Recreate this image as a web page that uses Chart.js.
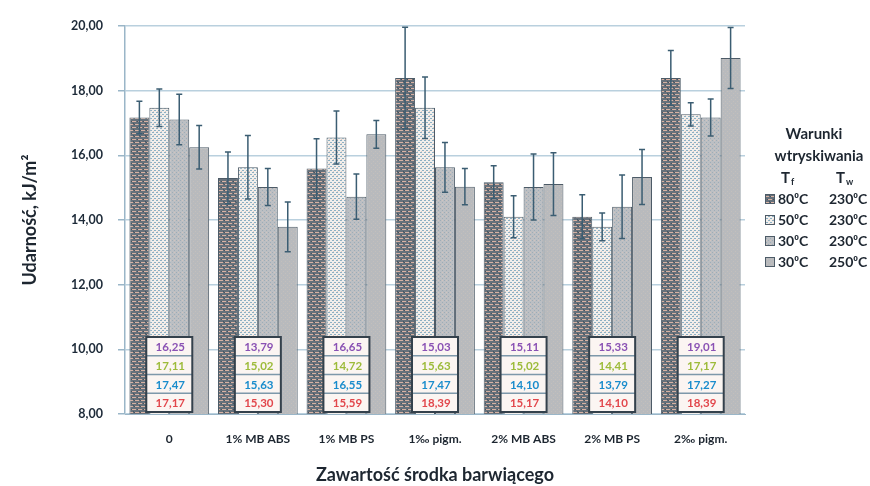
<!DOCTYPE html>
<html>
<head>
<meta charset="utf-8">
<script src="https://cdn.jsdelivr.net/npm/chart.js@4.4.1/dist/chart.umd.min.js"></script>
<style>
  html, body { margin: 0; padding: 0; background: #ffffff; }
  #wrap { width: 870px; height: 486px; position: relative; }
</style>
</head>
<body>
<div id="wrap"><canvas id="c" width="870" height="486"></canvas></div>
<script>
// Categories (colourant content)
const categories = ['0', '1% MB ABS', '1% MB PS', '1\u2030 pigm.', '2% MB ABS', '2% MB PS', '2\u2030 pigm.'];

// Injection conditions: mould temperature Tf / melt temperature Tw
const seriesTf = ['80\u2070C', '50\u2070C', '30\u2070C', '30\u2070C'];
const seriesTw = ['230\u2070C', '230\u2070C', '230\u2070C', '250\u2070C'];

// Impact strength, kJ/m2
const s80_230 = [17.17, 15.30, 15.59, 18.39, 15.17, 14.10, 18.39];
const s50_230 = [17.47, 15.63, 16.55, 17.47, 14.10, 13.79, 17.27];
const s30_230 = [17.11, 15.02, 14.72, 15.63, 15.02, 14.41, 17.17];
const s30_250 = [16.25, 13.79, 16.65, 15.03, 15.11, 15.33, 19.01];

// Standard deviations
const e80_230 = [0.50, 0.80, 0.92, 1.57, 0.51, 0.68, 0.85];
const e50_230 = [0.58, 0.98, 0.82, 0.95, 0.65, 0.43, 0.36];
const e30_230 = [0.78, 0.57, 0.70, 0.77, 1.02, 0.98, 0.57];
const e30_250 = [0.67, 0.77, 0.43, 0.56, 0.97, 0.85, 0.94];

// Y axis range
const yMin = 8, yMax = 20, yStep = 2;

const seriesValues = [s80_230, s50_230, s30_230, s30_250];
const seriesErrors = [e80_230, e50_230, e30_230, e30_250];
// colours of the value labels in the per-group table (same series order)
const labelColors = ['#e2474c', '#1a8ccc', '#9dbb3a', '#8a52b4'];

const fmt = v => v.toFixed(2).replace('.', ',');

function makePattern(w, h, draw) {
  const cv = document.createElement('canvas');
  cv.width = w; cv.height = h;
  const g = cv.getContext('2d');
  draw(g);
  return document.getElementById('c').getContext('2d').createPattern(cv, 'repeat');
}

// brick-like dark fill
const patBrick = makePattern(6, 6, g => {
  g.fillStyle = '#66717b'; g.fillRect(0, 0, 6, 6);
  g.fillStyle = '#d8b2a3';
  g.fillRect(0, 1, 4, 1);
  g.fillRect(3, 4, 3, 1);
  g.fillRect(0, 4, 1, 1);
  g.fillStyle = '#48535e';
  g.fillRect(5, 1, 1, 1);
  g.fillRect(2, 4, 1, 1);
  g.fillRect(1, 3, 1, 1);
});
// light dotted fill
const patLightDots = makePattern(4, 4, g => {
  g.fillStyle = '#f2efec'; g.fillRect(0, 0, 4, 4);
  g.fillStyle = '#8db0c3';
  g.fillRect(0, 0, 2, 1);
  g.fillRect(2, 2, 2, 1);
  g.fillStyle = '#e6cbc0';
  g.fillRect(1, 3, 1, 1);
});
// gray fine dots
const patGrayDots = makePattern(4, 4, g => {
  g.fillStyle = '#bcbfc3'; g.fillRect(0, 0, 4, 4);
  g.fillStyle = '#9eacb6';
  g.fillRect(0, 0, 1, 1);
  g.fillRect(2, 2, 1, 1);
  g.fillStyle = '#d2c4be';
  g.fillRect(2, 0, 1, 1);
});
// plain gray fill
const patGray = makePattern(4, 4, g => {
  g.fillStyle = '#b8babd'; g.fillRect(0, 0, 4, 4);
  g.fillStyle = '#c3bfbc';
  g.fillRect(1, 1, 1, 1);
  g.fillRect(3, 3, 1, 1);
});
const fills = [patBrick, patLightDots, patGrayDots, patGray];

const datasets = seriesValues.map((vals, i) => ({
  label: seriesTf[i] + ' ' + seriesTw[i],
  data: vals,
  backgroundColor: fills[i],
  borderColor: '#4d5b67',
  borderWidth: 1,
  categoryPercentage: 0.9,
  barPercentage: 1.0
}));

const FONT = 'Lato, "Open Sans", "DejaVu Sans", sans-serif';

// error bars from the dataset values and deviations
const errorBars = {
  id: 'errorBars',
  afterDatasetsDraw(chart) {
    const ctx = chart.ctx, ys = chart.scales.y;
    ctx.save();
    ctx.beginPath();
    ctx.rect(chart.chartArea.left, chart.chartArea.top - 4, chart.chartArea.width, chart.chartArea.height + 4);
    ctx.clip();
    ctx.strokeStyle = '#3b5d72';
    ctx.lineWidth = 1.5;
    seriesValues.forEach((vals, i) => {
      const meta = chart.getDatasetMeta(i);
      meta.data.forEach((bar, j) => {
        const v = vals[j], e = seriesErrors[i][j];
        const x = bar.x;
        const yt = ys.getPixelForValue(v + e);
        const yb = ys.getPixelForValue(v - e);
        ctx.beginPath();
        ctx.moveTo(x, yt); ctx.lineTo(x, yb);
        ctx.moveTo(x - 3, yt); ctx.lineTo(x + 3, yt);
        ctx.moveTo(x - 3, yb); ctx.lineTo(x + 3, yb);
        ctx.stroke();
      });
    });
    ctx.restore();
  }
};

// value table inside each group
const valueTables = {
  id: 'valueTables',
  afterDatasetsDraw(chart) {
    const ctx = chart.ctx, xs = chart.scales.x, area = chart.chartArea;
    const w = 46, rowH = 18.75, rows = 4;
    const top = area.bottom - 2 - rows * rowH;
    ctx.save();
    categories.forEach((cat, j) => {
      const cx = xs.getPixelForValue(j);
      const left = cx - w / 2;
      ctx.fillStyle = '#fbf5f2';
      ctx.fillRect(left, top, w, rows * rowH);
      // row separators
      ctx.strokeStyle = '#7d98aa';
      ctx.lineWidth = 1.5;
      for (let r = 1; r < rows; r++) {
        ctx.beginPath();
        ctx.moveTo(left, top + r * rowH);
        ctx.lineTo(left + w, top + r * rowH);
        ctx.stroke();
      }
      ctx.strokeStyle = '#34414c';
      ctx.lineWidth = 2;
      ctx.strokeRect(left, top, w, rows * rowH);
      ctx.font = 'bold 11.5px ' + FONT;
      ctx.textAlign = 'center';
      ctx.textBaseline = 'middle';
      for (let r = 0; r < rows; r++) {
        const si = rows - 1 - r;
        ctx.fillStyle = labelColors[si];
        ctx.fillText(fmt(seriesValues[si][j]), cx + 1, top + r * rowH + rowH / 2 + 1);
      }
    });
    ctx.restore();
  }
};

// side legend with injection conditions
const sideLegend = {
  id: 'sideLegend',
  afterDraw(chart) {
    const ctx = chart.ctx;
    ctx.save();
    ctx.fillStyle = '#1d2630';
    ctx.textBaseline = 'middle';
    ctx.textAlign = 'center';
    ctx.font = 'bold 15px ' + FONT;
    ctx.fillText('Warunki', 814, 134);
    ctx.fillText('wtryskiwania', 819, 156);
    // column heads T with subscripts
    ctx.textAlign = 'left';
    ctx.fillText('T', 781, 178);
    ctx.fillText('T', 836, 178);
    ctx.font = 'bold 9px ' + FONT;
    ctx.fillText('f', 791, 182);
    ctx.fillText('w', 846, 182);
    const rowsY = [199, 220, 241, 262];
    ctx.font = 'bold 14px ' + FONT;
    rowsY.forEach((y, i) => {
      ctx.fillStyle = fills[i];
      ctx.fillRect(765, y - 5, 9, 10);
      ctx.strokeStyle = '#4d5b67';
      ctx.lineWidth = 1;
      ctx.strokeRect(765.5, y - 4.5, 9, 9);
      ctx.fillStyle = '#1d2630';
      ctx.textAlign = 'left';
      ctx.fillText(seriesTf[i], 778, y);
      ctx.fillText(seriesTw[i], 829, y);
    });
    ctx.restore();
  }
};

new Chart(document.getElementById('c'), {
  type: 'bar',
  data: { labels: categories, datasets },
  options: {
    responsive: false,
    animation: false,
    layout: { padding: { left: 0, right: 125, top: 26, bottom: 0 } },
    plugins: {
      legend: { display: false },
      tooltip: { enabled: false }
    },
    scales: {
      x: {
        grid: { display: false },
        border: { display: true, color: '#9ab6c8', width: 1 },
        ticks: {
          color: '#1d2630',
          font: { family: FONT, size: 12, weight: 'bold' },
          padding: 10,
          maxRotation: 0,
          autoSkip: false
        },
        title: {
          display: true,
          text: 'Zawartość środka barwiącego',
          color: '#1d2630',
          font: { family: FONT, size: 18, weight: 'bold' },
          padding: { top: 0, bottom: 0 }
        },
        afterFit(scale) { scale.height = 72; }
      },
      y: {
        min: yMin,
        max: yMax,
        ticks: {
          stepSize: yStep,
          color: '#1d2a38',
          font: { family: FONT, size: 12.5, weight: 'bold' },
          padding: 15,
          callback: v => fmt(v)
        },
        grid: {
          color: '#b9d0de',
          lineWidth: 1.5,
          tickLength: 7,
          tickColor: '#9ab6c8'
        },
        border: { display: true, color: '#9ab6c8', width: 1.5 },
        title: {
          display: true,
          text: 'Udarność, kJ/m²',
          color: '#1d2630',
          font: { family: FONT, size: 18, weight: 'bold' },
          padding: { top: 19, bottom: 0 }
        },
        afterFit(scale) { scale.width = 125; }
      }
    }
  },
  plugins: [errorBars, valueTables, sideLegend]
});
</script>
</body>
</html>
